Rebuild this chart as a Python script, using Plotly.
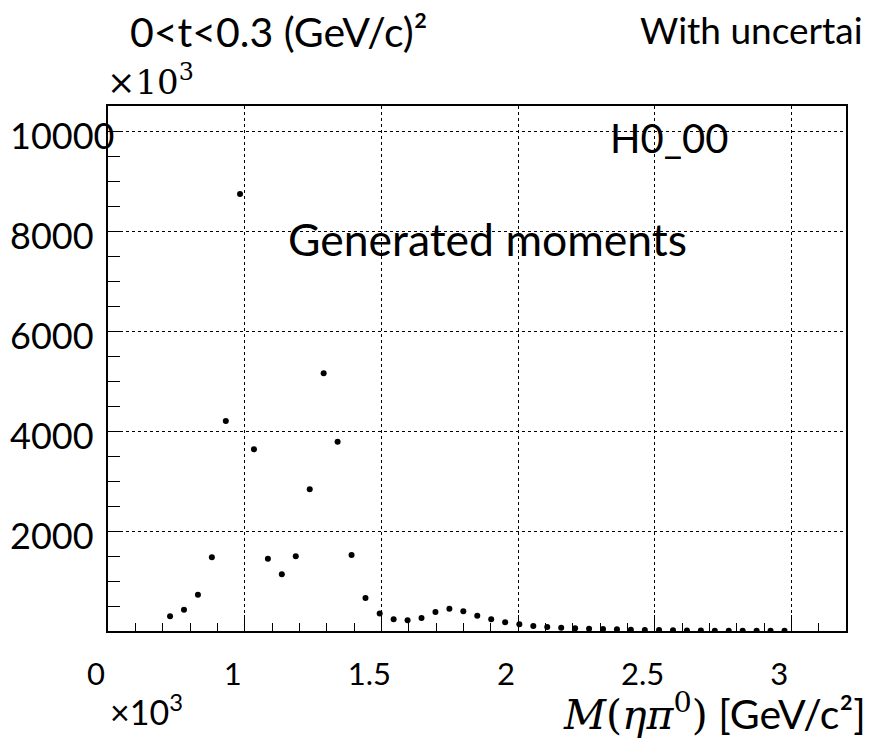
import plotly.graph_objects as go

# bin centres of M(eta pi0) [GeV/c^2]
mass = [0.727, 0.778, 0.829, 0.880, 0.931, 0.983, 1.034, 1.085, 1.136, 1.187,
        1.238, 1.289, 1.340, 1.391, 1.442, 1.494, 1.545, 1.596, 1.647, 1.698,
        1.749, 1.800, 1.851, 1.902, 1.953, 2.005, 2.056, 2.107, 2.158, 2.209,
        2.260, 2.311, 2.362, 2.413, 2.464, 2.516, 2.567, 2.618, 2.669, 2.720,
        2.771, 2.822, 2.873, 2.924, 2.975]

# H0_00 generated moment values
h0_00 = [294, 427, 727, 1473, 4200, 8740, 3633, 1447, 1133, 1493,
         2833, 5153, 3787, 1520, 660, 350, 233, 213, 260, 380,
         447, 393, 307, 233, 173, 133, 100, 80, 67, 53,
         47, 40, 33, 27, 20, 20, 13, 10, 8, 7,
         6, 5, 4, 3, 3]

y_tick_vals = [2000, 4000, 6000, 8000, 10000]
y_tick_text = ["2000", "4000", "6000", "8000", "10000"]

SANS = "Lato, 'Open Sans', sans-serif"
SERIF = "'DejaVu Serif', 'Liberation Serif', serif"

OFF = 8  # default page body margin
W, H = 871 - OFF, 741 - OFF
ML, MT = 108 - OFF, 106 - OFF
MR = W - (846 - OFF)
MB = H - (631 - OFF)
PW, PH = W - ML - MR, H - MT - MB


def px(x):
    return (x - OFF - ML) / PW


def py(y):
    return (H - MB - (y - OFF)) / PH


fig = go.Figure()
fig.add_trace(go.Scatter(
    x=mass, y=h0_00, mode="markers",
    marker=dict(color="black", size=6),
    showlegend=False,
))

fig.update_layout(
    width=W, height=H,
    margin=dict(l=ML, r=MR, t=MT, b=MB, autoexpand=False),
    paper_bgcolor="white", plot_bgcolor="white",
    font=dict(family=SANS, color="black"),
)

fig.update_xaxes(
    range=[0.5, 3.2], automargin=False,
    tickmode="linear", tick0=0.5, dtick=0.5,
    labelalias={"0.5": "0"},
    ticks="inside", ticklen=16, tickwidth=1, tickcolor="black",
    minor=dict(dtick=0.1, ticks="inside", ticklen=8, tickcolor="black", showgrid=False),
    showgrid=True, gridcolor="black", griddash="dot", gridwidth=1,
    showline=True, linecolor="black", linewidth=2, mirror=True,
    zeroline=False,
    tickfont=dict(family=SANS, size=31, color="black"),
    ticklabelstandoff=15, ticklabelshift=-12,
)

fig.update_yaxes(
    range=[0, 10500], automargin=False,
    tickmode="array", tickvals=y_tick_vals, ticktext=[""] * len(y_tick_vals),
    showticklabels=False,
    ticks="inside", ticklen=22, tickwidth=1, tickcolor="black",
    minor=dict(dtick=500, tick0=0, ticks="inside", ticklen=12, tickcolor="black", showgrid=False),
    showgrid=True, gridcolor="black", griddash="dot", gridwidth=1,
    showline=True, linecolor="black", linewidth=2, mirror=True,
    zeroline=False,
)

ann = []
# y-axis labels, left aligned as in the reference
for v, t in zip(y_tick_vals, y_tick_text):
    ann.append(dict(text=t, xref="paper", x=px(OFF), yref="y", y=v, yshift=-4,
                    xanchor="left", yanchor="middle", showarrow=False,
                    font=dict(size=36, family=SANS)))

texts = [
    dict(text="0<t<0.3 (GeV/c)²", x=128, y=31, xanchor="left",
         font=dict(size=41, family=SANS)),
    dict(text="With uncertai", x=638, y=30, xanchor="left",
         font=dict(size=37, family=SANS)),
    dict(text="×10<sup>3</sup>", x=105, y=80, xanchor="left",
         font=dict(size=34, family=SERIF)),
    dict(text="H0_00", x=669, y=138, xanchor="center",
         font=dict(size=40, family=SANS)),
    dict(text="Generated moments", x=487, y=239, xanchor="center",
         font=dict(size=44.5, family=SANS)),
    dict(text="×10<sup>3</sup>", x=108, y=710, xanchor="left",
         font=dict(size=34, family=SANS)),
    dict(text="<span style=\"font-family:'DejaVu Serif', serif\"><i>M</i>(<i>ηπ</i><sup>0</sup>)</span> [GeV/c²]",
         x=868, y=712, xanchor="right",
         font=dict(size=41, family=SANS)),
]
for a in texts:
    a.update(xref="paper", yref="paper", showarrow=False, yanchor="middle")
    a["x"] = px(a["x"])
    a["y"] = py(a["y"])
    ann.append(a)
fig.update_layout(annotations=ann)

fig.write_html("out.html")
